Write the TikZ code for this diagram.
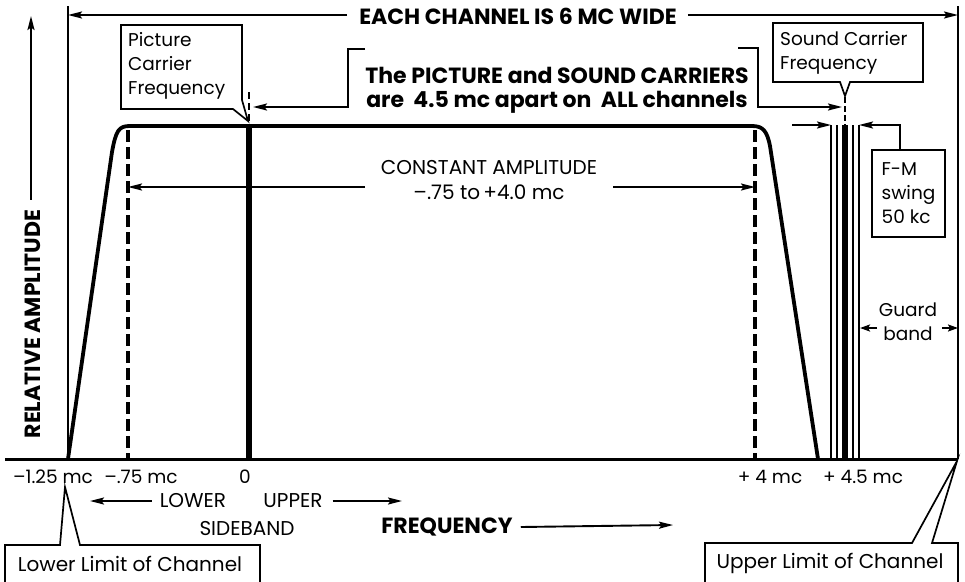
\documentclass[tikz,border=0pt]{standalone}
\usepackage{fontspec}
\setmainfont{Poppins}
\usetikzlibrary{arrows.meta,calc}
\begin{document}
\begin{tikzpicture}[x=1pt,y=-1pt,
  lab/.style={inner sep=0pt, font=\fontsize{20}{24.5}\selectfont},
  slab/.style={inner sep=0pt, font=\fontsize{18.5}{24}\selectfont},
  blab/.style={inner sep=0pt, font=\fontsize{22}{24}\selectfont\bfseries},
  arr/.style={-{Stealth[length=14pt,width=7pt,inset=2.5pt]}, line width=1.9pt},
  sarr/.style={-{Stealth[length=10pt,width=7pt,inset=2pt]}, line width=1.9pt},
  thinline/.style={line width=1.5pt},
  wave/.style={line width=3.8pt, line join=round},
  dashv/.style={line width=3.6pt, dash pattern=on 12pt off 5pt},
  callout/.style={line width=1.7pt, line join=miter}
]
\clip (0,0) rectangle (965,581);
\useasboundingbox (0,0) rectangle (965,581);

% channel limits and baseline
\coordinate (ltop) at (68,6);
\coordinate (lbot) at (68,459);
\coordinate (rtop) at (958,6);
\coordinate (rbot) at (958,459);
\coordinate (b0) at (5,459);
\draw[thinline] (ltop) -- (lbot);
\draw[thinline] (rtop) -- (rbot);
\draw[line width=3pt] (b0) -- (rbot);

% top title
\node[blab] (each) at (518,16) {EACH CHANNEL IS 6 MC WIDE};
\coordinate (chL) at (68,15);
\coordinate (chR) at (958,15);
\draw[arr] ([xshift=-12pt]each.west |- chL) -- (chL);
\draw[arr] ([xshift=11pt]each.east |- chR) -- (chR);

% response curve
\draw[wave] (lbot) -- (112,152) .. controls (116,130) and (119,126) .. (130,126)
  -- (752,126) .. controls (763,126) and (767,131) .. (770,146) -- (818,459);

% dashed limits of constant amplitude
\coordinate (dlT) at (128,130);
\coordinate (dlB) at (128,459);
\coordinate (drT) at (755,130);
\coordinate (drB) at (755,459);
\draw[dashv] (dlT) -- (dlB);
\draw[dashv] (drT) -- (drB);

% picture carrier
\coordinate (pcT) at (249,126);
\coordinate (pcB) at (249,459);
\draw[line width=5.5pt] (pcT) -- (pcB);
\draw[line width=1.5pt, dash pattern=on 7pt off 4pt] (249,92) -- (249,121);

% sound carrier lines
\foreach \xx/\ww in {831/2, 837/2, 845/5.5, 853/2, 859/2}
  \draw[line width=\ww pt] (\xx,125) -- (\xx,459);
\draw[line width=1.5pt, dash pattern=on 6pt off 3pt] (845,97) -- (845,125);

% picture carrier callout
\draw[callout] (121,25) -- (242,25) -- (242,100) -- (248,121) -- (233,109) -- (121,109) -- cycle;
\node[slab, anchor=west, align=left] (pictxt) at (128,66) {Picture\\Carrier\\Frequency};

% sound carrier callout
\draw[callout] (840,82) -- (845,96) -- (850,82) -- (923,82) -- (923,23) -- (773,23) -- (773,82) -- cycle;
\node[slab, anchor=west, align=left] (sndtxt) at (780,53) {Sound Carrier\\Frequency};

% carriers note with brackets
\node[blab, align=center] (carr) at (557,90) {The PICTURE and SOUND CARRIERS\\are\ \ 4.5 mc apart on\ \ ALL channels};
\coordinate (pcArrow) at (253,107);
\coordinate (scArrow) at (842,107);
\draw[arr] (365,49) -- (348,49) -- (348,107) -- (pcArrow);
\draw[arr] (738,48) -- (758,48) -- (758,107) -- (scArrow);

% constant amplitude
\node[lab, align=center] (const) at (489,180) {CONSTANT AMPLITUDE\\–.75 to\,+4.0 mc};
\coordinate (caL) at (365,187);
\coordinate (caR) at (613,187);
\draw[arr] (caL) -- (caL -| dlT);
\draw[arr] (caR) -- (caR -| drT);

% F-M swing
\node[draw, line width=1.7pt, minimum width=73pt, minimum height=87pt, inner sep=0pt,
      align=left, font=\fontsize{18.5}{24}\selectfont] (fm) at (908.5,193.5) {F-M\\swing\\50 kc};
\coordinate (fmL) at (792,125);
\coordinate (fmLtip) at (831,125);
\coordinate (fmRtip) at (859,125);
\draw[arr] (fmL) -- (fmLtip);
\draw[arr] ([xshift=-8.5pt]fm.north) |- (fmRtip);

% guard band
\node[slab, align=center] (guard) at (908,322) {Guard\\band};
\coordinate (gL) at (860,328);
\coordinate (gR) at (958,328);
\draw[sarr] (877,328) -- (gL);
\draw[sarr] (942,328) -- (gR);

% relative amplitude
\node[blab, rotate=90] (relamp) at (33,324) {RELATIVE AMPLITUDE};
\coordinate (raTop) at (31,16);
\draw[arr] ([yshift=10pt]relamp.east -| raTop) -- (raTop);

% axis labels
\node[slab] (m125) at (53,477) {–1.25 mc};
\node[slab] (m75) at (141,477) {–.75 mc};
\node[slab] (zero) at (245,477) {0};
\node[slab] (p4) at (770,477) {+ 4 mc};
\node[slab] (p45) at (863,477) {+ 4.5 mc};

\node[lab] (lower) at (193,501) {LOWER};
\node[lab] (upper) at (293,501) {UPPER};
\node[lab] (side) at (247,528) {SIDEBAND};
\coordinate (lowTip) at (90,501);
\coordinate (upTip) at (402,501);
\draw[arr] ([xshift=-8pt]lower.west) -- (lowTip);
\draw[arr] ([xshift=10pt]upper.east) -- (upTip);

\node[blab] (freq) at (447,527) {FREQUENCY};
\coordinate (fqTip) at (673,525);
\draw[arr] ([xshift=8pt]freq.east) -- (fqTip);

% channel limit callouts
\coordinate (lowLim) at (65,487);
\draw[callout] (5,600) -- (5,545) -- (60,545) -- (lowLim) -- (80,545) -- (260,545) -- (260,600);
\node[lab] (lowtxt) at (130,564) {Lower Limit of Channel};

\coordinate (upLim) at (957,461);
\draw[callout] (705,600) -- (705,543) -- (912,543) -- (upLim) -- (932,543) -- (958,543) -- (958,600);
\node[lab] (uptxt) at (830,563) {Upper Limit of Channel};
\end{tikzpicture}
\end{document}
